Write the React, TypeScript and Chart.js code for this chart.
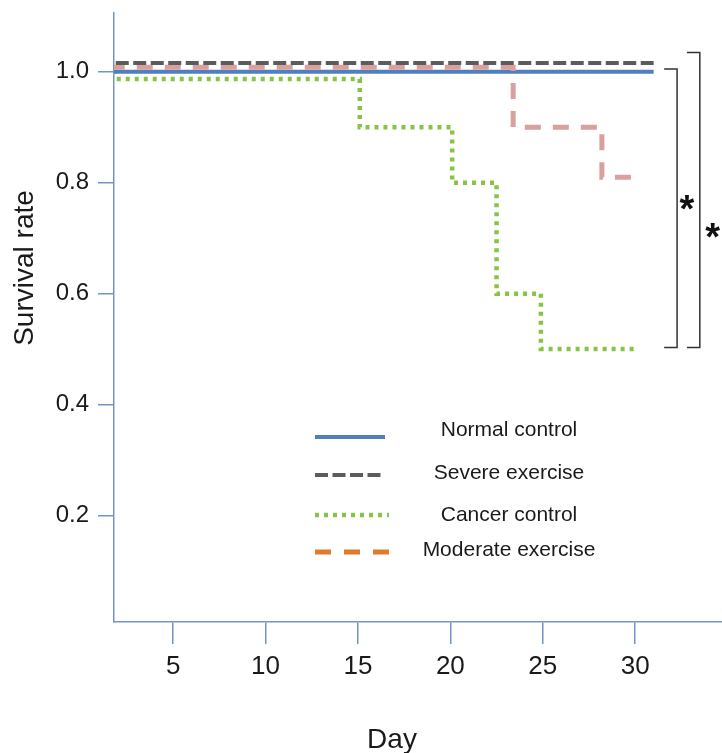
import React, { useEffect, useRef } from 'react';
import { Chart, registerables } from 'chart.js';

Chart.register(...registerables);

// ---- data ----
const seriesLabels = ['Normal control', 'Severe exercise', 'Cancer control', 'Moderate exercise'];

const normalDays = [0, 31];
const normalSurvival = [1.0, 1.0];

const severeDays = [0, 31];
const severeSurvival = [1.016, 1.016];

const cancerDays = [0, 15.1, 20.1, 22.5, 24.9, 30];
const cancerSurvival = [0.987, 0.9, 0.8, 0.6, 0.5, 0.5];

const moderateDays = [0, 23.4, 28.2, 30];
const moderateSurvival = [1.008, 0.9, 0.81, 0.81];

const xTickValues = [5, 10, 15, 20, 25, 30];
const yTickValues = [0.2, 0.4, 0.6, 0.8, 1.0];

// significance brackets (group pairs): top value, bottom value, label
const bracketTops = [1.005, 1.035];
const bracketBottom = 0.503;
const bracketArmStart = [31.57, 32.8];
const bracketSpine = [32.27, 33.5];
const starDays = [32.8, 34.2];
const starValues = [0.74, 0.69];

// ---- styles ----
const AXIS = '#7196c6';
const FONT = '"Liberation Sans", Arial, Helvetica, sans-serif';
const colors = {
  normal: '#4f7fbf',
  severe: '#5c5c5c',
  cancer: '#86c444',
  moderate: '#d9a0a0',
  moderateLegend: '#e07b2a',
};

const toPoints = (xs: number[], ys: number[]) => xs.map((x, i) => ({ x, y: ys[i] }));

const legendSpecs = [
  { label: seriesLabels[0], color: colors.normal, dash: [] as number[], width: 4, dy: 0, ty: -7 },
  { label: seriesLabels[1], color: colors.severe, dash: [13, 4.5], width: 4, dy: 38, ty: -2 },
  { label: seriesLabels[2], color: colors.cancer, dash: [4, 5], width: 4.5, dy: 78, ty: 0 },
  { label: seriesLabels[3], color: colors.moderateLegend, dash: [16, 13], width: 5, dy: 115, ty: -2 },
];

const overlayPlugin = {
  id: 'overlay',
  afterDraw(chart: any) {
    const { ctx, chartArea } = chart;
    const xs = chart.scales.x;
    const ys = chart.scales.y;
    ctx.save();

    // legend (inside plot)
    const lx0 = chartArea.left + 201;
    const lx1 = chartArea.left + 271;
    const ltx = chartArea.left + 395;
    const ly0 = chartArea.top + 424;
    ctx.font = `21px ${FONT}`;
    ctx.textAlign = 'center';
    ctx.textBaseline = 'middle';
    legendSpecs.forEach((s, i) => {
      const y = ly0 + s.dy;
      ctx.beginPath();
      ctx.setLineDash(s.dash);
      ctx.lineWidth = s.width;
      ctx.strokeStyle = s.color;
      ctx.moveTo(lx0, y);
      ctx.lineTo(lx1 + (i >= 2 ? 4 : 0), y);
      ctx.stroke();
      ctx.setLineDash([]);
      ctx.fillStyle = '#1a1a1a';
      ctx.fillText(s.label, ltx, y + s.ty);
    });

    // significance brackets
    ctx.strokeStyle = '#333333';
    ctx.lineWidth = 1.5;
    ctx.setLineDash([]);
    bracketTops.forEach((top, i) => {
      const xa = xs.getPixelForValue(bracketArmStart[i]);
      const xb = xs.getPixelForValue(bracketSpine[i]);
      const yt = ys.getPixelForValue(top);
      const yb = ys.getPixelForValue(bracketBottom);
      ctx.beginPath();
      ctx.moveTo(xa, yt);
      ctx.lineTo(xb, yt);
      ctx.lineTo(xb, yb);
      ctx.lineTo(xa, yb);
      ctx.stroke();
    });
    ctx.fillStyle = '#111';
    ctx.font = `bold 38px ${FONT}`;
    ctx.textAlign = 'center';
    ctx.textBaseline = 'alphabetic';
    starDays.forEach((d, i) => {
      ctx.fillText('*', xs.getPixelForValue(d), ys.getPixelForValue(starValues[i]) + 6);
    });

    // axis titles
    ctx.fillStyle = '#1a1a1a';
    ctx.font = `28px ${FONT}`;
    ctx.textAlign = 'center';
    ctx.textBaseline = 'middle';
    ctx.save();
    ctx.translate(25, 268);
    ctx.rotate(-Math.PI / 2);
    ctx.fillText('Survival rate', 0, 0);
    ctx.restore();
    ctx.textBaseline = 'alphabetic';
    ctx.fillText('Day', 392, 748);

    ctx.restore();
  },
};

export default function App() {
  const ref = useRef<HTMLCanvasElement | null>(null);

  useEffect(() => {
    if (!ref.current) return;
    const chart = new Chart(ref.current, {
      type: 'line',
      data: {
        datasets: [
          {
            label: seriesLabels[1],
            data: toPoints(severeDays, severeSurvival),
            borderColor: colors.severe,
            borderWidth: 4,
            borderDash: [13, 4.5],
            stepped: 'before',
            pointRadius: 0,
            order: 0,
          },
          {
            label: seriesLabels[3],
            data: toPoints(moderateDays, moderateSurvival),
            borderColor: colors.moderate,
            borderWidth: 5,
            borderDash: [16, 12],
            stepped: 'before',
            pointRadius: 0,
            order: 1,
          },
          {
            label: seriesLabels[0],
            data: toPoints(normalDays, normalSurvival),
            borderColor: colors.normal,
            borderWidth: 4,
            stepped: 'before',
            pointRadius: 0,
            order: 2,
          },
          {
            label: seriesLabels[2],
            data: toPoints(cancerDays, cancerSurvival),
            borderColor: colors.cancer,
            borderWidth: 4.5,
            borderDash: [4, 5],
            stepped: 'before',
            pointRadius: 0,
            order: 3,
          },
        ],
      },
      options: {
        animation: false,
        responsive: false,
        devicePixelRatio: 1,
        layout: { padding: { top: 13, left: 0, right: 0, bottom: 0 } },
        plugins: { legend: { display: false }, tooltip: { enabled: false } },
        scales: {
          x: {
            type: 'linear',
            min: 1.8,
            max: 34.7,
            afterBuildTicks: (s: any) => {
              s.ticks = xTickValues.map((v) => ({ value: v }));
            },
            afterFit: (s: any) => {
              s.height = 131;
              s.paddingLeft = 0;
              s.paddingRight = 0;
            },
            border: { display: true, color: AXIS, width: 1.5 },
            grid: { drawOnChartArea: false, drawTicks: true, tickLength: 22, color: AXIS, lineWidth: 1.5 },
            ticks: {
              color: '#1a1a1a',
              font: { family: FONT, size: 26 },
              padding: 7,
              maxRotation: 0,
              callback: (v: any) => String(v),
            },
          },
          y: {
            type: 'linear',
            min: 0.008,
            max: 1.106,
            afterBuildTicks: (s: any) => {
              s.ticks = yTickValues.map((v) => ({ value: v }));
            },
            afterFit: (s: any) => {
              s.width = 114;
              s.paddingTop = 0;
              s.paddingBottom = 0;
            },
            border: { display: true, color: AXIS, width: 1.5 },
            grid: { drawOnChartArea: false, drawTicks: true, tickLength: 16, color: AXIS, lineWidth: 1.5 },
            ticks: {
              color: '#1a1a1a',
              font: { family: FONT, size: 24 },
              padding: 9,
              callback: (v: any) => Number(v).toFixed(1),
            },
          },
        },
      },
      plugins: [overlayPlugin],
    });
    return () => chart.destroy();
  }, []);

  return (
    <div style={{ position: 'fixed', left: 0, top: 0, width: 722, height: 753, background: '#fff' }}>
      <canvas ref={ref} width={722} height={753} style={{ display: 'block' }} />
    </div>
  );
}
